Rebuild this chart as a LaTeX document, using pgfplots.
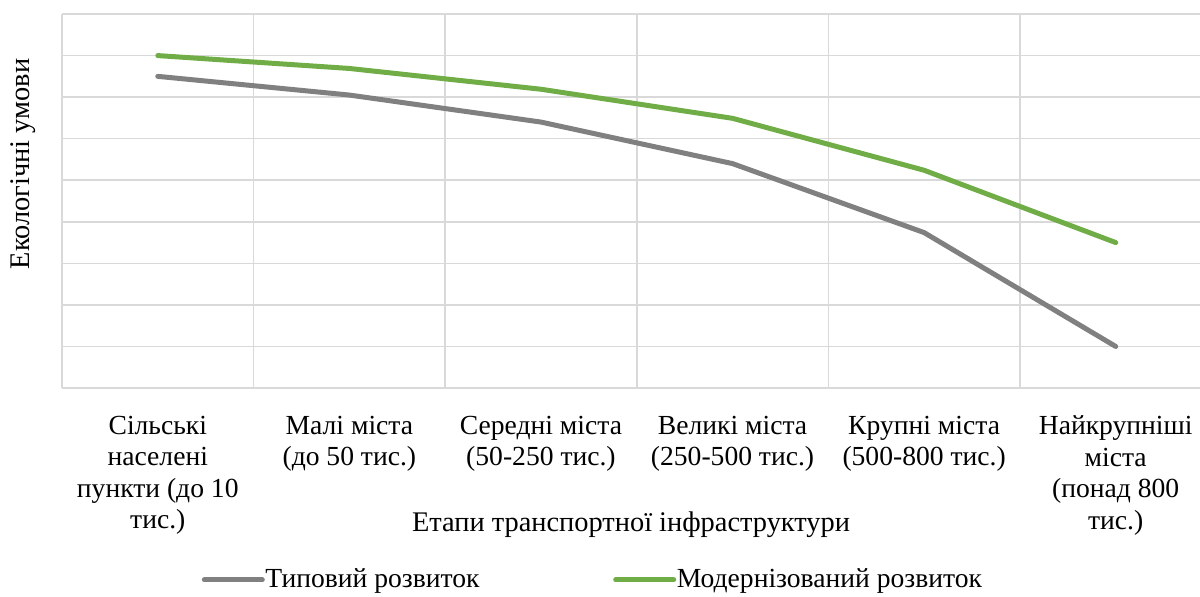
\documentclass[border=0pt]{standalone}
\usepackage{fontspec}
\setmainfont{Liberation Serif}
\usepackage{pgfplots}
\pgfplotsset{compat=1.18}
\definecolor{gline}{HTML}{808080}
\definecolor{grline}{HTML}{70AD47}
\definecolor{gridc}{HTML}{D9D9D9}
\newcommand{\cf}{\fontsize{13.8}{15.75}\selectfont}
\newcommand{\lf}{\fontsize{14.2}{16}\selectfont}
\begin{document}
\begin{tikzpicture}
\useasboundingbox (0,0) rectangle (600pt,298pt);
\begin{axis}[
 at={(31pt,104pt)}, anchor=south west,
 scale only axis, width=569pt, height=187pt,
 xmin=-0.5, xmax=5.44, ymin=0, ymax=9,
 axis line style={draw=none},
 xtick={0,1,2,3,4,5},
 xticklabels={{Сільські\\населені\\пункти (до 10\\тис.)},{Малі міста\\(до 50 тис.)},{Середні міста\\(50-250 тис.)},{Великі міста\\(250-500 тис.)},{Крупні міста\\(500-800 тис.)},{Найкрупніші\\міста\\(понад 800\\тис.)}},
 minor xtick={-0.5,0.5,1.5,2.5,3.5,4.5},
 xminorgrids=true, xmajorgrids=false,
 ytick={0,1,2,3,4,5,6,7,8,9}, yticklabels={}, ymajorgrids=true,
 grid style={gridc, line width=0.75pt},
 minor grid style={gridc, line width=0.75pt},
 major tick length=0pt, minor tick length=0pt,
 tick style={draw=none},
 tick label style={font=\cf},
 xticklabel style={align=center, anchor=north, yshift=-10.5pt},
 xlabel={Етапи транспортної інфраструктури},
 ylabel={Екологічні умови},
 label style={font=\lf},
 xlabel style={at={(axis description cs:0.5,0)}, anchor=north, yshift=-58.4pt},
 ylabel style={at={(axis description cs:-0.051,0.599)}, anchor=north},
 legend columns=2,
 legend style={draw=none, font=\cf, at={(axis description cs:0.1225,-0.513)}, anchor=west, inner sep=0pt,
   nodes={inner xsep=0.3pt},
   /tikz/every even column/.append style={column sep=66.5pt}},
 legend image code/.code={\draw[#1] (0pt,0pt) -- (29pt,0pt);},
 every axis plot/.append style={line width=2.5pt, line cap=round, line join=round},
]
\addplot[gline, mark=none] coordinates {(0,7.5) (1,7.05) (2,6.4) (3,5.4) (4,3.74) (5,1.0)};
\addlegendentry{Типовий розвиток}
\addplot[grline, mark=none] coordinates {(0,8.0) (1,7.69) (2,7.19) (3,6.49) (4,5.24) (5,3.5)};
\addlegendentry{Модернізований розвиток}
\end{axis}
\end{tikzpicture}
\end{document}
